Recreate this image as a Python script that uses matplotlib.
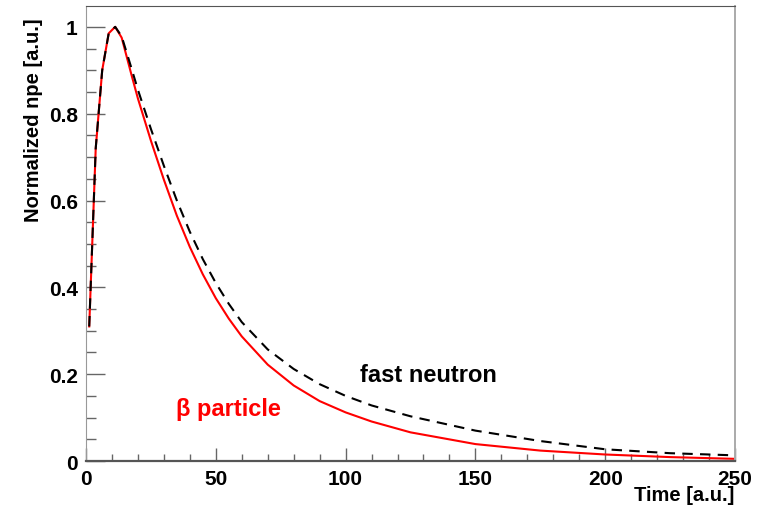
import matplotlib
matplotlib.use('Agg')
import matplotlib.pyplot as plt
from matplotlib.ticker import MultipleLocator

plt.rcParams['font.family'] = ['Liberation Sans', 'DejaVu Sans']
plt.rcParams['font.weight'] = 'bold'

# time points (a.u.) and normalized npe
time_pts = [1.25, 3.75, 6.25, 8.75, 11.25, 13.75, 17.5, 20, 25, 30, 35, 40, 45,
            50, 55, 60, 70, 80, 90, 100, 110, 125, 150, 175, 200, 225, 250]
beta_npe = [0.31, 0.72, 0.90, 0.985, 1.0, 0.975, 0.89, 0.835, 0.738, 0.648, 0.565,
            0.493, 0.430, 0.375, 0.328, 0.287, 0.222, 0.174, 0.138, 0.112, 0.091,
            0.066, 0.039, 0.024, 0.015, 0.009, 0.005]
neutron_npe = [0.31, 0.72, 0.90, 0.985, 1.0, 0.978, 0.905, 0.855, 0.765, 0.680,
               0.600, 0.528, 0.465, 0.410, 0.362, 0.320, 0.257, 0.212, 0.177,
               0.150, 0.128, 0.103, 0.070, 0.046, 0.027, 0.018, 0.013]

fig = plt.figure(figsize=(7.67, 5.10), dpi=100)
ax = fig.add_axes([0.1121, 0.0941, 0.8462, 0.8922])

ax.plot(time_pts, beta_npe, '-', color='#ff0000', lw=1.5)
ax.plot(time_pts, neutron_npe, '--', color='black', lw=1.5, dashes=(5, 3.5))

ax.set_xlim(0, 250)
ax.set_ylim(0, 1.048)

ax.xaxis.set_major_locator(MultipleLocator(50))
ax.xaxis.set_minor_locator(MultipleLocator(10))
ax.yaxis.set_major_locator(MultipleLocator(0.2))
ax.yaxis.set_minor_locator(MultipleLocator(0.05))
ax.yaxis.set_major_formatter(plt.FuncFormatter(lambda v, p: '%g' % round(v, 2)))

ax.tick_params(axis='both', which='both', direction='in', color='#666666',
               labelsize=15, top=False, right=False)
ax.tick_params(axis='y', which='major', length=13.5, width=1, pad=6)
ax.tick_params(axis='y', which='minor', length=7, width=1)
ax.tick_params(axis='x', which='major', length=9.5, width=1, pad=6)
ax.tick_params(axis='x', which='minor', length=5, width=1)
for lab in ax.get_xticklabels() + ax.get_yticklabels():
    lab.set_fontweight('bold')

ax.spines['left'].set_color('#999999')
ax.spines['right'].set_color('#aaaaaa')
ax.spines['top'].set_color('#555555')
ax.spines['bottom'].set_color('#555555')
ax.spines['bottom'].set_linewidth(1.6)
ax.spines['right'].set_linewidth(1.4)

ax.text(132, 0.200, 'fast neutron', color='black', fontsize=17,
        fontweight='bold', ha='center', va='center')
ax.text(54.7, 0.120, 'β particle', color='#ff0000', fontsize=17,
        fontweight='bold', ha='center', va='center')

fig.text(34 / 767, 1 - 18 / 510, 'Normalized npe [a.u.]', rotation=90,
         ha='center', va='top', fontsize=14.5, fontweight='bold')
fig.text(734 / 767, 1 - 496 / 510, 'Time [a.u.]', ha='right', va='center',
         fontsize=14.5, fontweight='bold')

fig.savefig('out.png', dpi=100)
